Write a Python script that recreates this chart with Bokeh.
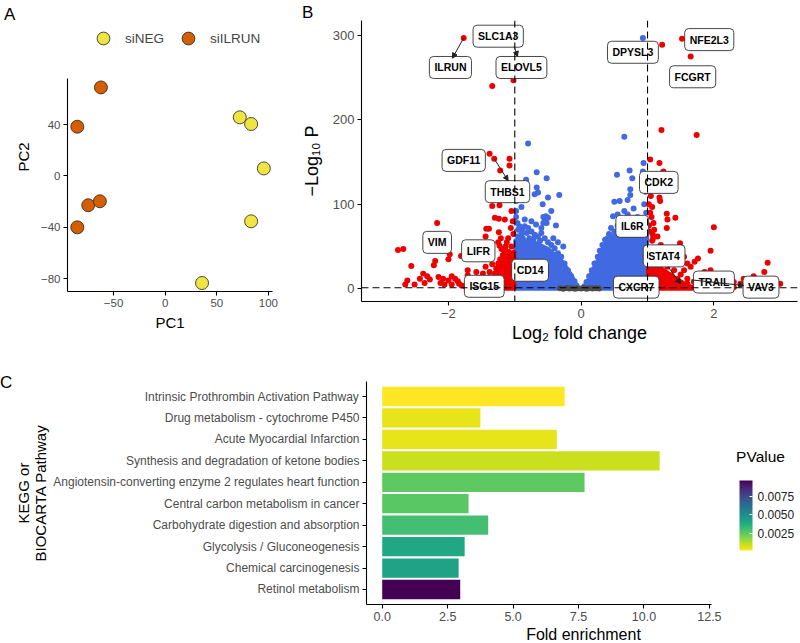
from bokeh.plotting import figure
from bokeh.models import (ColumnDataSource, Range1d, Label, Legend, LegendItem, ColorBar, Div, Title,
                          LinearColorMapper, FixedTicker, PrintfTickFormatter, Span, Arrow,
                          NormalHead)
from bokeh.layouts import column, row
from bokeh.palettes import Viridis256
from bokeh.transform import transform
from bokeh.core.properties import value
from bokeh.embed import file_html
from bokeh.resources import INLINE

FONT = "Liberation Sans"

# ---------------- Panel A data (PCA) ----------------
neg_pc1 = [72.3, 83.3, 95.6, 83.3, 35.7]
neg_pc2 = [45.7, 40.5, 5.9, -35.3, -83.4]
ilrun_pc1 = [-85.2, -62.3, -85.2, -74.6, -63.3]
ilrun_pc2 = [38.4, 69.0, -40.0, -22.8, -19.7]
pca_xticks = [-50, 0, 50, 100]
pca_yticks = [-80, -40, 0, 40]

# ---------------- Panel B data (volcano) ----------------
red_x = [-1.77, -1.34, -1.02, -1.38, -1.31, -1.08, -1.08, -1.22,
         -1.43, -1.39, -1.44, -1.34, -1.23, -1.30, -1.24, -1.15,
         -1.24, -1.21, -1.25, -1.23, -1.20,
         -2.76, -2.68, -2.56, -2.17, -2.62, -2.65, -2.51,
         -2.43, -2.38, -2.32, -2.28, -2.36, -2.20, -2.22,
         -2.15, -2.08, -2.12, -2.06, -1.95, -2.00, -1.95, -1.98, -2.00,
         -1.90, -1.84, -1.80, -1.86, -1.81, -1.71, -1.71,
         -1.58, -1.54, -1.48, -1.44, -1.38, -1.34,
         -1.14, -1.05, -1.03, -1.06, -1.02, -1.10, -1.12, -1.05, -1.15, -1.08,
         -1.60, -1.55, -1.50, -1.45, -1.42, -1.38, -1.35, -1.30, -1.28, -1.25,
         -1.22, -1.18, -1.15, -1.12, -1.30, -1.27, -1.20, -1.17, -1.10, -1.14,
         -1.25, -1.70, -1.65, -1.75, -1.62, -1.68,
         1.52, 1.22, 1.65, 1.21, 1.74,
         1.04, 1.18, 1.24, 1.18, 1.19, 1.07, 1.29, 1.42, 1.30, 1.29, 1.09,
         2.00, 1.08, 1.08, 1.07, 1.49, 1.95, 1.20, 2.81, 2.76, 2.60, 3.00, 1.76,
         1.71, 1.65, 1.55, 1.95, 2.13, 2.23, 2.30, 2.40, 2.55, 1.90, 1.86, 1.80, 2.06,
         1.02, 1.03, 1.05, 1.02, 1.04, 1.06, 1.02, 1.03, 1.15, 1.10, 1.12, 1.25,
         1.35, 1.45, 1.40, 1.60, 1.55, 1.25,
         1.00, 1.05, 1.12, 1.20, 1.30, 1.40, 1.50, 1.60, 1.70, 1.80, 1.90, 1.45,
         1.35, 1.60, 1.75, 1.85, 2.00, 2.10, 2.20, 2.30, 2.45, 2.50, 2.70, 2.85,
         1.15, 1.25]
red_y = [297, 240, 247, 160, 154, 154, 146, 140,
         71, 71, 62, 98, 99, 84, 83, 82,
         67, 60, 55, 51, 47,
         46, 47, 27, 78, 10, 5, 5,
         12, 18, 15, 11, 7, 33, 28,
         14, 12, 7, 5, 5, 10, 15, 41, 35,
         12, 6, 4, 9, 39, 22, 16,
         20, 13, 18, 26, 20, 29,
         110, 92, 80, 72, 65, 60, 55, 50, 45, 42,
         3, 8, 5, 10, 3, 14, 8, 18, 24, 30,
         35, 40, 36, 28, 4, 12, 20, 15, 44, 50,
         5, 6, 10, 3, 4, 2,
         296, 289, 275, 188, 182,
         153, 149, 139, 108, 104, 97, 89, 84, 82, 72, 78,
         73, 64, 59, 57, 54, 45, 52, 31, 20, 15, 6, 36,
         32, 26, 22, 22, 16, 10, 8, 6, 8, 16, 20, 10, 5,
         130, 120, 110, 100, 90, 85, 75, 68, 62, 70, 45, 40,
         38, 35, 30, 30, 38, 47,
         42, 38, 34, 30, 26, 22, 17, 12, 8, 4, 2, 12,
         16, 6, 14, 9, 3, 6, 3, 2, 12, 4, 3, 2,
         20, 8]

blue_x = [-0.80, -0.67, -0.52, -0.67, -0.65, -0.70, -0.50, -0.33, -0.58, -0.45,
          -0.90, -0.98, -0.98, -0.83,
          -0.57, -0.53, -0.50, -0.57, -0.52, -0.55, -0.38, -0.93, -0.85, -0.80,
          -0.89, -0.27,
          -0.95, -0.90, -0.82, -0.75, -0.70, -0.65, -0.60, -0.72, -0.78, -0.88,
          -0.95, -0.62, -0.55, -0.50, -0.45, -0.40, -0.35, -0.30, -0.25, -0.20,
          -0.15, -0.10, -0.07, -0.42, -0.35, -0.60, -0.68, -0.75, -0.85, -0.98,
          -0.96,
          0.93, 0.65, 0.54, 0.73, 0.77, 0.74, 0.74, 0.94, 0.93, 0.50, 0.58,
          0.70, 0.79, 0.65, 0.55, 0.48, 0.45, 0.50, 0.42, 0.55, 0.60, 0.98,
          0.97, 0.95, 0.98, 0.85, 0.90, 0.62, 0.70, 0.36, 0.32, 0.28, 0.25,
          0.20, 0.16, 0.12, 0.08, 0.05, 0.40, 0.35, 0.30, 0.22, 0.80, 0.90,
          0.65]
blue_y = [172, 138, 131, 120, 114, 112, 108, 111, 100, 92,
          97, 92, 104, 129,
          85, 86, 84, 78, 78, 80, 75, 74, 74, 72,
          69, 50,
          70, 65, 66, 68, 64, 62, 66, 58, 60, 60,
          62, 57, 60, 55, 52, 48, 42, 38, 30, 22,
          15, 9, 4, 60, 55, 72, 76, 80, 82, 85,
          78,
          297, 180, 135, 140, 131, 118, 111, 149, 139, 103, 104,
          105, 95, 92, 88, 86, 72, 68, 65, 75, 72, 125,
          115, 100, 90, 85, 80, 82, 88, 58, 52, 45, 38,
          30, 22, 15, 8, 3, 60, 48, 40, 28, 78, 74,
          78]

grey_x = [-0.32, -0.27, -0.22, -0.18, -0.13, -0.09, -0.05, 0.0, 0.04, 0.08, 0.12, 0.17, 0.22, 0.27]
grey_y = [0.6, 0.2, 0.9, 0.3, 0.7, 0.1, 0.8, 0.4, 0.9, 0.2, 0.6, 0.3, 0.8, 0.4]

# dense cores of the point clouds (outlines)
blue_core_left_x = [-1.0, -0.04, -0.13, -0.27, -0.48, -0.65, -0.85, -1.0]
blue_core_left_y = [-0.5, -0.5, 15, 32, 47, 54, 58, 58]
blue_core_right_x = [0.05, 1.0, 1.0, 0.75, 0.55, 0.40, 0.32, 0.23, 0.12]
blue_core_right_y = [-0.5, -0.5, 72, 70, 66, 60, 47, 32, 15]
red_core_left_x = [-1.0, -1.52, -1.40, -1.30, -1.25, -1.18, -1.10, -1.0]
red_core_left_y = [-0.5, -0.5, 5, 10, 22, 35, 42, 45]
red_core_right_x = [1.0, 1.78, 1.60, 1.45, 1.30, 1.15, 1.0]
red_core_right_y = [-0.5, -0.5, 5, 12, 20, 28, 32]

gene_names = ["ILRUN", "SLC1A3", "ELOVL5", "DPYSL3", "NFE2L3", "FCGRT", "GDF11", "THBS1",
              "CDK2", "IL6R", "VIM", "LIFR", "CD14", "ISG15", "STAT4", "CXCR7", "TRAIL", "VAV3"]
gene_lab_x = [-1.97, -1.25, -0.90, 0.78, 1.93, 1.68, -1.77, -1.11,
              1.17, 0.77, -2.17, -1.55, -0.77, -1.46, 1.25, 0.83, 2.00, 2.71]
gene_lab_y = [262, 299, 262, 280, 295, 251, 152, 115,
              126, 74, 55, 45, 22, 3, 39, 2, 8, 2]

arrow_x0 = [-1.77, -1.01, -1.31, 1.31, 1.66]
arrow_y0 = [297, 287, 154, 26, 10.6]
arrow_x1 = [-1.94, -0.96, -1.10, 1.50, 2.45]
arrow_y1 = [273, 275, 128, 6, 3.9]

fc_cut = 1.0
p_cut = 1.3

# ---------------- Panel C data (enrichment) ----------------
pathways = ["Intrinsic Prothrombin Activation Pathway",
            "Drug metabolism - cytochrome P450",
            "Acute Myocardial Infarction",
            "Synthesis and degradation of ketone bodies",
            "Angiotensin-converting enzyme 2 regulates heart function",
            "Central carbon metabolism in cancer",
            "Carbohydrate digestion and absorption",
            "Glycolysis / Gluconeogenesis",
            "Chemical carcinogenesis",
            "Retinol metabolism"]
fold_enrichment = [6.97, 3.75, 6.67, 10.6, 7.73, 3.30, 4.05, 3.15, 2.92, 2.98]
pvalues = [0.00014, 0.0005, 0.0005, 0.0009, 0.0025, 0.0026, 0.0030, 0.0040, 0.0042, 0.0097]
fe_ticks = [0, 2.5, 5, 7.5, 10, 12.5]
pv_ticks = [0.0025, 0.005, 0.0075]


def classic(p, tick_px, label_px):
    p.xgrid.visible = False
    p.ygrid.visible = False
    p.outline_line_color = None
    p.background_fill_color = "white"
    p.border_fill_color = "white"
    for ax in p.axis:
        ax.axis_line_color = "black"
        ax.axis_line_width = 1.1
        ax.major_tick_line_color = "black"
        ax.major_tick_line_width = 1.1
        ax.major_tick_out = 4
        ax.major_tick_in = 0
        ax.minor_tick_line_color = None
        ax.major_label_text_color = "#4D4D4D"
        ax.major_label_text_font = FONT
        ax.major_label_text_font_size = tick_px
        ax.major_label_standoff = 3
        ax.axis_label_text_font = FONT
        ax.axis_label_text_font_size = label_px
        ax.axis_label_text_font_style = "normal"
        ax.axis_label_text_color = "black"


def letter_div(txt, w, h, pad_left, pad_top, lh):
    return Div(text=txt, width=w, height=h, margin=0,
               styles={"font-family": FONT, "font-size": "17px", "line-height": f"{lh}px",
                       "color": "black", "padding-left": f"{pad_left}px",
                       "padding-top": f"{pad_top}px", "overflow": "visible"})


# ---------------- Panel A ----------------
pA = figure(width=298, height=323, x_range=Range1d(-94.7, 104), y_range=Range1d(-90, 119.6),
            output_backend="svg", toolbar_location=None,
            min_border_left=67, min_border_right=26, min_border_top=0, min_border_bottom=54)
classic(pA, "11.5px", "15px")
pA.xaxis.ticker = FixedTicker(ticks=pca_xticks)
pA.yaxis.ticker = FixedTicker(ticks=pca_yticks)
pA.yaxis.bounds = (-90, 76)
pA.xaxis.axis_label = "PC1"
pA.yaxis.axis_label = "PC2"
pA.xaxis.axis_label_standoff = 4
pA.yaxis.axis_label_standoff = 6
rn = pA.scatter(neg_pc1, neg_pc2, size=13, fill_color="#F0E442", line_color="#222222", line_width=0.8)
ri = pA.scatter(ilrun_pc1, ilrun_pc2, size=13, fill_color="#D55E00", line_color="#222222", line_width=0.8)
legA = Legend(items=[LegendItem(label="siNEG", renderers=[rn]), LegendItem(label="siILRUN", renderers=[ri])],
              orientation="horizontal", location=(20, 237), glyph_width=32, glyph_height=32,
              label_text_font=FONT, label_text_font_size="13.5px", label_standoff=6, spacing=8,
              border_line_color=None, background_fill_alpha=0, padding=0, margin=0)
pA.add_layout(legA)

# ---------------- Panel B ----------------
pB = figure(width=502, height=325, x_range=Range1d(-3.31, 3.26), y_range=Range1d(-15, 317.6),
            output_backend="svg", toolbar_location=None,
            min_border_left=62, min_border_right=3, min_border_top=0, min_border_bottom=42)
classic(pB, "13px", "18px")
pB.xaxis.ticker = FixedTicker(ticks=[-2, 0, 2])
pB.yaxis.ticker = FixedTicker(ticks=[0, 100, 200, 300])
pB.xaxis.axis_label = "Log\u2082 fold change"
pB.yaxis.axis_label = "\u2212Log\u2081\u2080 P"
pB.xaxis.axis_label_standoff = 2
pB.yaxis.axis_label_standoff = 8
BLUE = "#4169E1"
RED = "#EE0000"
pB.patch(blue_core_left_x, blue_core_left_y, fill_color=BLUE, line_color=BLUE, line_width=3)
pB.patch(blue_core_right_x, blue_core_right_y, fill_color=BLUE, line_color=BLUE, line_width=3)
pB.patch(red_core_left_x, red_core_left_y, fill_color=RED, line_color=RED, line_width=3)
pB.patch(red_core_right_x, red_core_right_y, fill_color=RED, line_color=RED, line_width=3)
pB.scatter(blue_x, blue_y, size=6, fill_color=BLUE, line_color=None)
pB.scatter(red_x, red_y, size=6, fill_color=RED, line_color=None)
pB.scatter(grey_x, grey_y, size=6, fill_color="#4D4D4D", line_color=None)
for loc in (-fc_cut, fc_cut):
    pB.add_layout(Span(location=loc, dimension="height", line_color="black",
                       line_dash="7 4", line_width=1.1))
pB.add_layout(Span(location=p_cut, dimension="width", line_color="black",
                   line_dash="7 4", line_width=1.1))
lab_src = ColumnDataSource(dict(x=gene_lab_x, y=gene_lab_y, t=gene_names))
pB.text(x="x", y="y", text="t", source=lab_src, text_font=value(FONT), text_font_size="10.5px",
        text_font_style="bold", text_color="black", text_align="center", text_baseline="middle",
        background_fill_color="white", border_line_color="#333333", border_line_width=0.9,
        border_radius=4, padding=5)
arr_src = ColumnDataSource(dict(x0=arrow_x0, y0=arrow_y0, x1=arrow_x1, y1=arrow_y1))
pB.add_layout(Arrow(x_start="x0", y_start="y0", x_end="x1", y_end="y1", source=arr_src,
                    line_color="#222222", line_width=1,
                    end=NormalHead(size=5, fill_color="#222222", line_color="#222222")))

# ---------------- Panel C ----------------
mapper = LinearColorMapper(palette=list(reversed(Viridis256)), low=0.00014, high=0.0097)
pC = figure(width=788, height=298, x_range=Range1d(-0.6, 15.98), y_range=list(reversed(pathways)),
            output_backend="svg", toolbar_location=None,
            min_border_left=350, min_border_right=0, min_border_top=36, min_border_bottom=39)
pC.y_range.range_padding = 0.2
pC.y_range.range_padding_units = "absolute"
classic(pC, "12.5px", "15px")
pC.yaxis.major_label_text_font_size = "12px"
pC.yaxis.axis_label_text_line_height = 1.0
pC.xaxis.ticker = FixedTicker(ticks=fe_ticks)
pC.xaxis.bounds = (-0.6, 12.57)
pC.xaxis.formatter = PrintfTickFormatter(format="%.1f")
pC.yaxis.axis_label = "KEGG or\nBIOCARTA Pathway"
pC.yaxis.axis_label_standoff = 1
pC.add_layout(Title(text="Fold enrichment", align="center", offset=-45, standoff=0,
                    text_font=FONT, text_font_size="16px", text_font_style="normal",
                    text_color="black"), "below")
src_c = ColumnDataSource(dict(cat=pathways, fe=fold_enrichment, pv=pvalues))
pC.hbar(y="cat", left=0, right="fe", height=0.9, source=src_c,
        fill_color=transform("pv", mapper), line_color=None)
cb = ColorBar(color_mapper=mapper, location=(373, 54), width=13, height=70, padding=0, margin=0,
              ticker=FixedTicker(ticks=pv_ticks), formatter=PrintfTickFormatter(format="%.4f"),
              major_label_text_font=FONT, major_label_text_font_size="12px",
              major_label_text_color="#222222", label_standoff=5,
              major_tick_line_color="white", major_tick_in=3, major_tick_out=0,
              bar_line_color=None, border_line_color=None, background_fill_alpha=0)
pC.add_layout(cb)
pC.add_layout(Label(x=13.52, y=6.72, text="PValue", text_font=FONT, text_font_size="15.5px",
                    text_color="black", text_align="left", text_baseline="middle"))

divA = letter_div("A", 298, 22, 4, 6, 18)
divB = letter_div("B", 502, 20, 4, 5, 16)
divC = letter_div("C", 12, 298, 0, 29, 18)

layout = column(row(column(divA, pA), column(divB, pB)), row(divC, pC))
open("out.html", "w").write(file_html(layout, INLINE))
